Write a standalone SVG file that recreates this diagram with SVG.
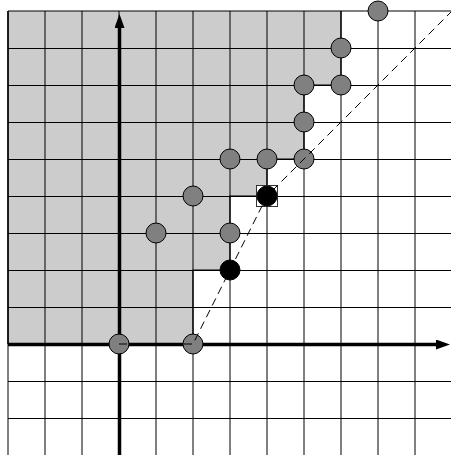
<svg xmlns="http://www.w3.org/2000/svg" width="451" height="455" viewBox="0 0 451 455">
  <style>
    .grid line { stroke: #000; stroke-width: 1; }
    .pt { fill: #808080; stroke: #000; stroke-width: 1; }
    .blk { fill: #000; stroke: #000; stroke-width: 1; }
    .axis { stroke: #000; stroke-width: 3.5; fill: none; }
    .dash { stroke: #000; stroke-width: 1; fill: none; stroke-dasharray: 8 5; }
  </style>
  <defs>
    <marker id="ah" viewBox="0 0 14 10" refX="1" refY="5" markerWidth="14" markerHeight="10" markerUnits="userSpaceOnUse" orient="auto">
      <path d="M0,0 L14,5 L0,10 Z" fill="#000"/>
    </marker>
  </defs>
  <rect x="0" y="0" width="451" height="455" fill="#fff"/>
  <!-- shaded region -->
  <polygon id="region" points="8,11 341,11 341,85 304,85 304,159 267,159 267,196 230,196 230,270 193,270 193,344 8,344" fill="#cccccc"/>
  <!-- grid -->
  <g class="grid">
    <line x1="8" y1="11" x2="8" y2="455"/>
    <line x1="45" y1="11" x2="45" y2="455"/>
    <line x1="82" y1="11" x2="82" y2="455"/>
    <line x1="119" y1="11" x2="119" y2="455"/>
    <line x1="156" y1="11" x2="156" y2="455"/>
    <line x1="193" y1="11" x2="193" y2="455"/>
    <line x1="230" y1="11" x2="230" y2="455"/>
    <line x1="267" y1="11" x2="267" y2="455"/>
    <line x1="304" y1="11" x2="304" y2="455"/>
    <line x1="341" y1="11" x2="341" y2="455"/>
    <line x1="378" y1="11" x2="378" y2="455"/>
    <line x1="415" y1="11" x2="415" y2="455"/>
    <line x1="8" y1="11" x2="451" y2="11"/>
    <line x1="8" y1="48.5" x2="451" y2="48.5"/>
    <line x1="8" y1="85.5" x2="451" y2="85.5"/>
    <line x1="8" y1="122.5" x2="451" y2="122.5"/>
    <line x1="8" y1="159.5" x2="451" y2="159.5"/>
    <line x1="8" y1="196.5" x2="451" y2="196.5"/>
    <line x1="8" y1="233.5" x2="451" y2="233.5"/>
    <line x1="8" y1="270.5" x2="451" y2="270.5"/>
    <line x1="8" y1="307.5" x2="451" y2="307.5"/>
    <line x1="8" y1="381.5" x2="451" y2="381.5"/>
    <line x1="8" y1="418.5" x2="451" y2="418.5"/>
  </g>
  <polyline points="341,11 341,85 304,85 304,159 267,159 267,196 230,196 230,270 193,270 193,344" fill="none" stroke="#000" stroke-width="1.2"/>
  <line x1="8" y1="11" x2="8" y2="344" stroke="#000" stroke-width="1.5"/>
  <!-- axes -->
  <g id="axes">
    <line class="axis" x1="8" y1="344.5" x2="437" y2="344.5" marker-end="url(#ah)"/>
    <line class="axis" x1="119.5" y1="455" x2="119.5" y2="27" marker-end="url(#ah)"/>
  </g>
  <!-- points -->
  <g id="p0_0"><circle class="pt" cx="119" cy="344" r="10"/></g>
  <g id="p2_0"><circle class="pt" cx="193" cy="344" r="10"/></g>
  <g id="p1_3"><circle class="pt" cx="156" cy="233" r="10"/></g>
  <g id="p3_3"><circle class="pt" cx="230" cy="233" r="10"/></g>
  <g id="p2_4"><circle class="pt" cx="193" cy="196" r="10"/></g>
  <g id="p3_5"><circle class="pt" cx="230" cy="159" r="10"/></g>
  <g id="p4_5"><circle class="pt" cx="267" cy="159" r="10"/></g>
  <g id="p5_5"><circle class="pt" cx="304" cy="159" r="10"/></g>
  <g id="p5_6"><circle class="pt" cx="304" cy="122" r="10"/></g>
  <g id="p5_7"><circle class="pt" cx="304" cy="85" r="10"/></g>
  <g id="p6_7"><circle class="pt" cx="341" cy="85" r="10"/></g>
  <g id="p6_8"><circle class="pt" cx="341" cy="48" r="10"/></g>
  <g id="p7_9"><circle class="pt" cx="378" cy="11" r="10"/></g>
  <g id="p4_4">
    <rect x="256.5" y="185.5" width="21" height="21" fill="#fff" stroke="#333" stroke-width="1"/>
    <circle class="blk" cx="267" cy="196" r="10"/>
  </g>
  <g id="p3_2"><circle class="blk" cx="230" cy="270" r="10"/></g>
  <!-- connectors -->
  <g id="connectors">
    <path class="dash" d="M119,344 L193,344 L267,196 L452,11"/>
  </g>
</svg>
